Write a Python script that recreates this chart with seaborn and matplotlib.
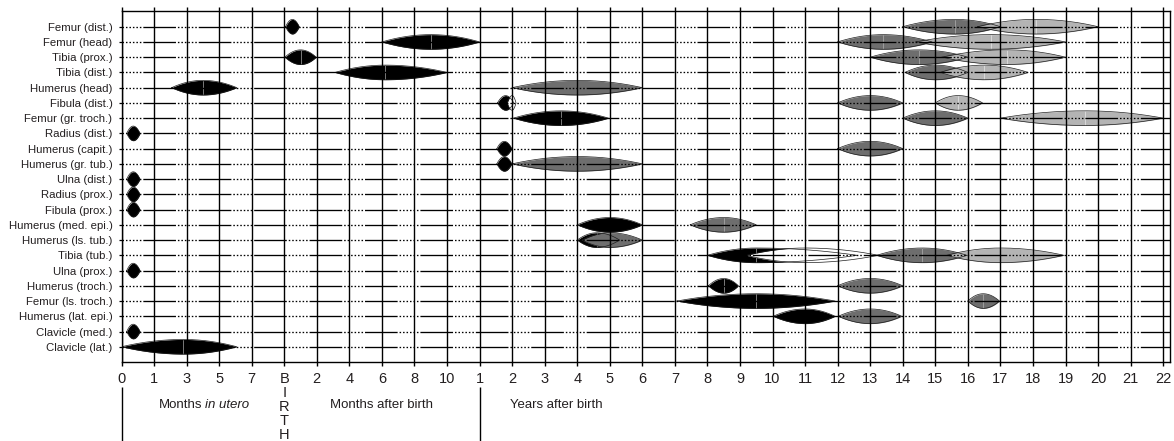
import numpy as np
import pandas as pd
import matplotlib
matplotlib.use("Agg")
import matplotlib.pyplot as plt
import seaborn as sns

# rows, top to bottom
bones = ["Femur (dist.)", "Femur (head)", "Tibia (prox.)", "Tibia (dist.)",
         "Humerus (head)", "Fibula (dist.)", "Femur (gr. troch.)", "Radius (dist.)",
         "Humerus (capit.)", "Humerus (gr. tub.)", "Ulna (dist.)", "Radius (prox.)",
         "Fibula (prox.)", "Humerus (med. epi.)", "Humerus (ls. tub.)", "Tibia (tub.)",
         "Ulna (prox.)", "Humerus (troch.)", "Femur (ls. troch.)", "Humerus (lat. epi.)",
         "Clavicle (med.)", "Clavicle (lat.)"]

# x axis: months in utero | birth | months after birth | years after birth
tick_labels = (["0", "1", "3", "5", "7", "B\nI\nR\nT\nH", "2", "4", "6", "8", "10"]
               + [str(y) for y in range(1, 23)])

# spindles, in tick-position units (start, peak, end) and tone
sp_bone = ["Femur (dist.)", "Femur (dist.)", "Femur (dist.)",
           "Femur (head)", "Femur (head)", "Femur (head)",
           "Tibia (prox.)", "Tibia (prox.)", "Tibia (prox.)",
           "Tibia (dist.)", "Tibia (dist.)", "Tibia (dist.)",
           "Humerus (head)", "Humerus (head)",
           "Fibula (dist.)", "Fibula (dist.)", "Fibula (dist.)", "Fibula (dist.)",
           "Femur (gr. troch.)", "Femur (gr. troch.)", "Femur (gr. troch.)",
           "Radius (dist.)",
           "Humerus (capit.)", "Humerus (capit.)",
           "Humerus (gr. tub.)", "Humerus (gr. tub.)",
           "Ulna (dist.)", "Radius (prox.)", "Fibula (prox.)",
           "Humerus (med. epi.)", "Humerus (med. epi.)",
           "Humerus (ls. tub.)", "Humerus (ls. tub.)",
           "Tibia (tub.)", "Tibia (tub.)", "Tibia (tub.)", "Tibia (tub.)",
           "Ulna (prox.)",
           "Humerus (troch.)", "Humerus (troch.)",
           "Femur (ls. troch.)", "Femur (ls. troch.)",
           "Humerus (lat. epi.)", "Humerus (lat. epi.)",
           "Clavicle (med.)", "Clavicle (lat.)"]
sp_start = [5.04, 24.0, 26.3,
            8.0, 22.0, 24.4,
            5.02, 23.0, 25.2,
            6.56, 24.07, 25.15,
            1.54, 12.0,
            11.55, 11.85, 22.0, 25.0,
            12.04, 24.0, 27.0,
            0.16,
            11.53, 22.0,
            11.53, 12.0,
            0.16, 0.16, 0.16,
            14.0, 17.47,
            14.0, 14.15,
            18.0, 19.2, 23.2, 25.35,
            0.16,
            18.03, 22.0,
            17.06, 26.0,
            20.02, 22.02,
            0.16, 0.0]
sp_peak = [5.25, 25.6, 28.1,
           9.5, 23.4, 26.7,
           5.5, 24.5, 27.2,
           8.1, 25.0, 26.5,
           2.5, 14.0,
           11.8, 12.0, 23.0, 25.7,
           13.5, 25.0, 29.6,
           0.36,
           11.76, 23.0,
           11.76, 14.0,
           0.36, 0.36, 0.36,
           15.0, 18.5,
           14.6, 15.0,
           19.5, 21.0, 24.6, 27.0,
           0.36,
           18.5, 23.0,
           19.5, 26.47,
           21.0, 23.0,
           0.36, 1.9]
sp_end = [5.46, 27.0, 30.0,
          11.0, 24.9, 29.0,
          5.98, 26.0, 29.0,
          10.0, 26.0, 27.85,
          3.54, 16.0,
          12.05, 12.12, 24.0, 26.45,
          14.96, 26.0, 32.0,
          0.57,
          11.99, 24.0,
          11.99, 16.0,
          0.57, 0.57, 0.57,
          16.0, 19.5,
          15.3, 16.0,
          22.6, 23.25, 25.97, 28.95,
          0.57,
          18.95, 24.0,
          21.92, 26.97,
          21.92, 23.97,
          0.57, 3.54]
sp_tone = ["black", "dark", "light",
           "black", "dark", "light",
           "black", "dark", "light",
           "black", "dark", "light",
           "black", "dark",
           "black", "white", "dark", "light",
           "black", "dark", "light",
           "black",
           "black", "dark",
           "black", "dark",
           "black", "black", "black",
           "black", "dark",
           "black", "dark",
           "black", "white", "dark", "light",
           "black",
           "black", "dark",
           "black", "dark",
           "black", "dark",
           "black", "black"]

fills = {"black": "#000000", "dark": "#6e6e6e", "light": "#b4b4b4", "white": "#ffffff"}
mids = {"black": "#8c8c8c", "dark": "#a4a4a4", "light": "#dedede", "white": None}

sns.set_theme(style="ticks")
plt.rcParams["font.family"] = ["Liberation Sans", "DejaVu Sans"]
plt.rcParams["lines.scale_dashes"] = False
ink = "#231f20"


def spindle(x0, xp, x1, half, n=40):
    xl = np.linspace(x0, xp, n)
    xr = np.linspace(xp, x1, n)[1:]
    hl = half * (1 - ((xl - xp) / (xp - x0)) ** 2)
    hr = half * (1 - ((xr - xp) / (x1 - xp)) ** 2)
    return np.concatenate([xl, xr]), np.concatenate([hl, hr])


fig = plt.figure(figsize=(11.74, 4.41), dpi=100)
ax = fig.add_axes([121.5 / 1174, 79 / 441, 1048.5 / 1174, 351 / 441])

half = 0.48
outline = []
for i, (b, s, p, e, t) in enumerate(zip(sp_bone, sp_start, sp_peak, sp_end, sp_tone)):
    y = bones.index(b)
    xs, hs = spindle(s, p, e, half)
    ax.fill_between(xs, y - hs, y + hs, color=fills[t], lw=0, zorder=1 + i * 0.01)
    if mids[t] and e - s > 0.5:
        ax.plot([p, p], [y - half * 0.95, y + half * 0.95], color=mids[t], lw=0.6,
                zorder=1.005 + i * 0.01)
    ring_x = np.concatenate([xs, xs[::-1]])
    ring_y = np.concatenate([y - hs, (y + hs)[::-1]])
    outline.append(pd.DataFrame({"x": ring_x, "y": ring_y, "sid": i}))

outline = pd.concat(outline, ignore_index=True)
sns.lineplot(data=outline, x="x", y="y", units="sid", estimator=None, sort=False,
             color="#1e1e1e", lw=0.5, ax=ax, zorder=1.9)

ax.set_xlim(0, 32.21)
ax.set_ylim(22, -1.03)
ax.set_xticks(range(len(tick_labels)))
ax.set_xticklabels(tick_labels)
ax.set_yticks(range(len(bones)))
ax.set_yticklabels(bones)
ax.set_xlabel("")
ax.set_ylabel("")

ax.set_axisbelow(False)
ax.grid(axis="x", color="black", lw=1.0)
dots = [1.1, 1.4] * 6 + [23.5, 1.4]
ax.grid(axis="y", color="black", lw=0.95, linestyle=(0, dots))

for sp in ax.spines.values():
    sp.set_color("black")
    sp.set_linewidth(1.0)
    sp.set_visible(True)

ax.tick_params(axis="x", top=True, bottom=True, direction="out", length=3, width=1.0,
               pad=4.5, labelsize=10.5, labelcolor=ink, color="black")
ax.tick_params(axis="y", left=True, direction="out", length=2.5, width=0.9,
               pad=4, labelsize=8.2, labelcolor=ink, color="black")
ax.get_xticklabels()[5].set_linespacing(1.0)

# timeline captions
tr = ax.get_xaxis_transform()
ax.vlines([0, 11], -0.225, -0.0712, transform=tr, color="black", lw=1.0, clip_on=False)
ax.text(2.47, -0.1225, "Months", transform=tr, ha="right", va="center",
        fontsize=9.5, color=ink)
ax.text(2.57, -0.1225, "in utero", transform=tr, ha="left", va="center",
        fontsize=9.5, color=ink, style="italic")
ax.text(8.0, -0.1225, "Months after birth", transform=tr, ha="center", va="center",
        fontsize=9.5, color=ink)
ax.text(11.93, -0.1225, "Years after birth", transform=tr, ha="left", va="center",
        fontsize=9.5, color=ink)

fig.savefig("out.png", dpi=100, facecolor="white")
